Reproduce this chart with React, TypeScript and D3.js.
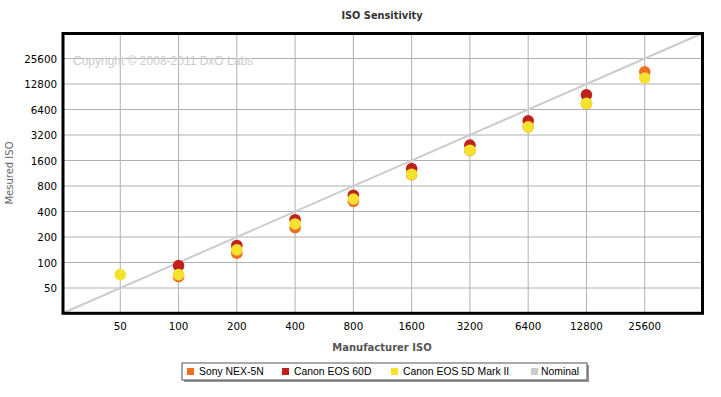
import React from "react";
import * as d3 from "d3";

const isoTicks = [50, 100, 200, 400, 800, 1600, 3200, 6400, 12800, 25600];

const sonyIso = [100, 200, 400, 800, 1600, 3200, 6400, 12800, 25600];
const sonyMeasured = [68, 129, 258, 528, 1090, 2100, 3980, 7520, 17860];

const canon60dIso = [100, 200, 400, 800, 1600, 3200, 6400, 12800];
const canon60dMeasured = [92, 159, 320, 623, 1287, 2430, 4700, 9550];

const canon5dIso = [50, 100, 200, 400, 800, 1600, 3200, 6400, 12800, 25600];
const canon5dMeasured = [72, 72, 141, 285, 562, 1100, 2118, 3995, 7550, 15050];

const seriesNames = ["Sony NEX-5N", "Canon EOS 60D", "Canon EOS 5D Mark II", "Nominal"];
const seriesColors = ["#EE6E22", "#C0221B", "#F4E22C", "#CCCCCC"];

const W = 721;
const H = 397;

export default function App() {
  const x = d3.scaleLog().base(2).domain([25, 51200]).range([62, 703]);
  const y = d3.scaleLog().base(2).domain([25, 51200]).range([313.5, 33]);

  const series = [
    { iso: sonyIso, m: sonyMeasured, c: seriesColors[0] },
    { iso: canon60dIso, m: canon60dMeasured, c: seriesColors[1] },
    { iso: canon5dIso, m: canon5dMeasured, c: seriesColors[2] },
  ];

  const line = d3
    .line<number>()
    .x((d) => x(d))
    .y((d) => y(d));

  const legendItems = [
    { sx: 187, tx: 199 },
    { sx: 282, tx: 294 },
    { sx: 391, tx: 403 },
    { sx: 531, tx: 541 },
  ];

  const font = "'DejaVu Sans', Verdana, sans-serif";
  const afont = "'Liberation Sans', Arial, sans-serif";

  return (
    <svg
      width={W}
      height={H}
      style={{ position: "absolute", left: 0, top: 0, background: "#fff" }}
    >
      <rect x={0} y={0} width={W} height={H} fill="#fff" />
      <text
        x={382}
        y={19}
        textAnchor="middle"
        fontFamily={font}
        fontWeight="bold"
        fontSize={9.8}
        fill="#333"
      >
        ISO Sensitivity
      </text>

      {/* grid */}
      {isoTicks.map((t) => (
        <line
          key={"gx" + t}
          x1={x(t)}
          x2={x(t)}
          y1={33}
          y2={313}
          stroke="#b0b0b0"
          strokeWidth={1}
        />
      ))}
      {isoTicks.map((t) => (
        <line
          key={"gy" + t}
          x1={62}
          x2={703}
          y1={y(t)}
          y2={y(t)}
          stroke="#b0b0b0"
          strokeWidth={1}
        />
      ))}

      <text x={73} y={65} fontFamily={afont} fontSize={12} fill="#cccccc">
        Copyright © 2008-2011 DxO Labs
      </text>

      {/* nominal */}
      <path d={line([25, 51200]) || ""} stroke={seriesColors[3]} strokeWidth={2} fill="none" />

      {/* points */}
      {series.map((s, si) =>
        s.iso.map((v, i) => (
          <circle key={si + "-" + i} cx={x(v)} cy={y(s.m[i])} r={5.8} fill={s.c} />
        ))
      )}

      {/* frame */}
      <rect x={63} y={33.5} width={639.5} height={279.8} fill="none" stroke="#000" strokeWidth={3} />

      {/* tick labels */}
      {isoTicks.map((t) => (
        <text
          key={"ty" + t}
          x={57}
          y={y(t) + 4}
          textAnchor="end"
          fontFamily={font}
          fontSize={10.3}
          fill="#000"
        >
          {t}
        </text>
      ))}
      {isoTicks.map((t) => (
        <text
          key={"tx" + t}
          x={x(t)}
          y={330}
          textAnchor="middle"
          fontFamily={font}
          fontSize={10.3}
          fill="#000"
        >
          {t}
        </text>
      ))}

      <text
        x={382}
        y={351}
        textAnchor="middle"
        fontFamily={font}
        fontWeight="bold"
        fontSize={10}
        fill="#555"
      >
        Manufacturer ISO
      </text>
      <text
        transform={`translate(13,173) rotate(-90)`}
        textAnchor="middle"
        fontFamily={font}
        fontSize={10}
        fill="#666"
      >
        Mesured ISO
      </text>

      {/* legend */}
      <rect x={184} y={365} width={405} height={17} fill="#999" />
      <rect x={182} y={363} width={405} height={17} fill="#fff" stroke="#555" strokeWidth={1} />
      {legendItems.map((it, i) => (
        <g key={"lg" + i}>
          <rect x={it.sx} y={368} width={7} height={7} fill={seriesColors[i]} />
          <text x={it.tx} y={375} fontFamily={afont} fontSize={10.4} fill="#000">
            {seriesNames[i]}
          </text>
        </g>
      ))}
    </svg>
  );
}
